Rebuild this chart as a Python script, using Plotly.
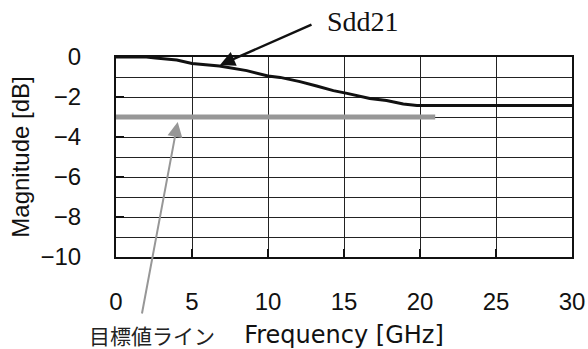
import plotly.graph_objects as go

# Data
freq_ghz = [0, 1, 2, 2.6, 4.0, 5.0, 6.8, 8.6, 10.0, 10.8, 12.1, 13.2, 14.3, 15.2,
            16.7, 17.8, 18.9, 19.8, 20.5, 25, 30]
sdd21_db = [0, 0, 0, -0.05, -0.15, -0.32, -0.45, -0.68, -0.95, -1.02, -1.23, -1.45,
            -1.68, -1.82, -2.07, -2.18, -2.35, -2.42, -2.43, -2.43, -2.43]
target_freq = [0, 21]
target_db = [-3, -3]

x_ticks = [0, 5, 10, 15, 20, 25, 30]
y_ticks = [0, -2, -4, -6, -8, -10]
y_labels = ["0", "\u22122", "\u22124", "\u22126", "\u22128", "\u221210"]

label_sdd = "Sdd21"
label_target = "目標値ライン"
x_title = "Frequency [GHz]"
y_title = "Magnitude [dB]"

W, H = 588, 349
L, R, T, B = 116, 16, 57, 92
pw, ph = W - L - R, H - T - B


def px_to_paper(px, py):
    return (px - L) / pw, 1 - (py - T) / ph


fig = go.Figure()
fig.add_trace(go.Scatter(x=target_freq, y=target_db, mode="lines",
                         line=dict(color="#979797", width=5), showlegend=False))
fig.add_trace(go.Scatter(x=freq_ghz, y=sdd21_db, mode="lines",
                         line=dict(color="#111111", width=3), showlegend=False))

# Arrows
fig.add_annotation(x=6.84, y=-0.4, ax=12.96, ay=1.65, axref="x", ayref="y",
                   xref="x", yref="y", text="", showarrow=True,
                   arrowhead=2, arrowsize=1.2, arrowwidth=2.5, arrowcolor="#111111")
fig.add_annotation(x=4.06, y=-3.25, ax=1.69, ay=-12.9, axref="x", ayref="y",
                   xref="x", yref="y", text="", showarrow=True,
                   arrowhead=2, arrowsize=1.5, arrowwidth=2, arrowcolor="#979797")

# Labels
sx, sy = px_to_paper(363, 22)
fig.add_annotation(x=sx, y=sy, xref="paper", yref="paper", text=label_sdd,
                   xanchor="center", yanchor="middle", showarrow=False,
                   font=dict(family="Liberation Serif", size=28, color="#111111"))
tx, ty = px_to_paper(151.5, 335)
fig.add_annotation(x=tx, y=ty, xref="paper", yref="paper", text=label_target,
                   xanchor="center", yanchor="middle", showarrow=False,
                   font=dict(family="Noto Sans CJK JP", size=21, color="#222222"))

fig.update_layout(
    width=W, height=H,
    margin=dict(l=L, r=R, t=T, b=B, autoexpand=False),
    plot_bgcolor="white", paper_bgcolor="white",
    font=dict(family="Liberation Sans", size=24, color="#111111"),
)
fig.update_xaxes(
    range=[0, 30], tickvals=x_ticks, ticktext=[str(v) for v in x_ticks],
    showgrid=True, gridcolor="#222222", gridwidth=1,
    showline=True, linecolor="#111111", linewidth=2, mirror=True,
    ticks="inside", ticklen=8, tickwidth=2, tickcolor="#111111",
    ticklabelstandoff=22, zeroline=False, automargin=False,
    title=dict(text=x_title, standoff=18,
               font=dict(family="DejaVu Sans", size=24, color="#111111")),
)
fig.update_yaxes(
    range=[-10, 0], tickvals=y_ticks, ticktext=y_labels,
    showgrid=True, gridcolor="#222222", gridwidth=1,
    minor=dict(dtick=1, tick0=0, showgrid=True, gridcolor="#222222", gridwidth=1, ticks=""),
    showline=True, linecolor="#111111", linewidth=2, mirror=True,
    ticks="inside", ticklen=8, tickwidth=2, tickcolor="#111111",
    ticklabelstandoff=28, zeroline=False, automargin=False,
    title=dict(text=y_title, standoff=4,
               font=dict(family="Liberation Sans", size=24, color="#111111")),
)

fig.write_html("out.html", config={"displayModeBar": False},
               post_script="document.body.style.margin='0';document.body.style.overflow='hidden';")
